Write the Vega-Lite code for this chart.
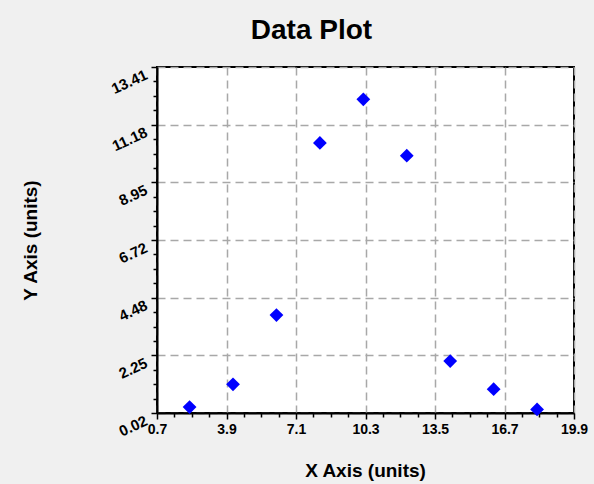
{
  "$schema": "https://vega.github.io/schema/vega-lite/v6.json",
  "width": 417,
  "height": 346,
  "autosize": {"type": "none"},
  "padding": {"left": 157, "top": 67, "right": 20, "bottom": 71},
  "background": "#f0f0f0",
  "title": {
    "text": "Data Plot",
    "font": "Liberation Sans",
    "fontSize": 28,
    "fontWeight": "bold",
    "color": "#000000",
    "anchor": "middle",
    "frame": "group",
    "dx": -54,
    "dy": 31,
    "baseline": "alphabetic",
    "offset": 30
  },
  "config": {
    "view": {"stroke": "#000000", "strokeWidth": 2, "fill": "#ffffff"},
    "axis": {
      "domainColor": "#000000",
      "domainWidth": 2,
      "tickColor": "#000000",
      "tickWidth": 1.5,
      "labelColor": "#000000",
      "labelFont": "Liberation Sans",
      "labelFontSize": 14,
      "labelFontWeight": "bold",
      "titleFont": "Liberation Sans",
      "titleFontSize": 19,
      "titleFontWeight": "bold",
      "titleColor": "#000000",
      "gridColor": "#a8a8a8",
      "gridDash": [8, 5],
      "gridWidth": 1.5
    }
  },
  "data": {
    "values": [
      {"x": 2.2, "y": 0.25},
      {"x": 4.2, "y": 1.13},
      {"x": 6.2, "y": 3.81},
      {"x": 8.2, "y": 10.47},
      {"x": 10.2, "y": 12.16},
      {"x": 12.2, "y": 9.98},
      {"x": 14.2, "y": 2.03},
      {"x": 16.2, "y": 0.94},
      {"x": 18.2, "y": 0.16}
    ]
  },
  "mark": {"type": "point", "shape": "diamond", "filled": true, "color": "#0000ff", "size": 190, "opacity": 1},
  "encoding": {
    "x": {
      "field": "x",
      "type": "quantitative",
      "scale": {"domain": [0.7, 19.9], "nice": false, "zero": false},
      "axis": {
        "title": "X Axis (units)",
        "values": [0.7, 1.5, 2.3, 3.1, 3.9, 4.7, 5.5, 6.3, 7.1, 7.9, 8.7, 9.5, 10.3, 11.1, 11.9, 12.7, 13.5, 14.3, 15.1, 15.9, 16.7, 17.5, 18.3, 19.1, 19.9],
        "format": ".1f",
        "labelExpr": "abs((datum.value-0.7)/3.2 - round((datum.value-0.7)/3.2)) < 0.01 ? datum.label : ''",
        "tickSize": {"condition": {"test": "abs((datum.value-0.7)/3.2 - round((datum.value-0.7)/3.2)) < 0.01", "value": 6}, "value": 4},
        "gridOpacity": {"condition": {"test": "abs((datum.value-0.7)/3.2 - round((datum.value-0.7)/3.2)) < 0.01", "value": 1}, "value": 0},
        "labelPadding": 3,
        "labelFlush": false,
        "labelOverlap": false,
        "titleX": 208,
        "titleY": 57,
        "titleBaseline": "middle",
        "titleAlign": "center"
      }
    },
    "y": {
      "field": "y",
      "type": "quantitative",
      "scale": {"domain": [0.02, 13.41], "nice": false, "zero": false},
      "axis": {
        "title": "Y Axis (units)",
        "values": [0.02, 0.577917, 1.135833, 1.69375, 2.251667, 2.809583, 3.3675, 3.925417, 4.483333, 5.04125, 5.599167, 6.157083, 6.7151, 7.272917, 7.830833, 8.38875, 8.946667, 9.504583, 10.0625, 10.620417, 11.178333, 11.73625, 12.294167, 12.852083, 13.41],
        "format": ".2f",
        "labelExpr": "abs((datum.value-0.02)/2.231667 - round((datum.value-0.02)/2.231667)) < 0.01 ? datum.label : ''",
        "tickSize": {"condition": {"test": "abs((datum.value-0.02)/2.231667 - round((datum.value-0.02)/2.231667)) < 0.01", "value": 6}, "value": 4},
        "gridOpacity": {"condition": {"test": "abs((datum.value-0.02)/2.231667 - round((datum.value-0.02)/2.231667)) < 0.01", "value": 1}, "value": 0},
        "labelAngle": -25,
        "labelAlign": "right",
        "labelBaseline": "top",
        "labelFontSize": 15,
        "labelPadding": 8,
        "labelFlush": false,
        "labelOverlap": false,
        "titleX": -127,
        "titleY": 173,
        "titleAngle": -90,
        "titleAlign": "center",
        "titleBaseline": "middle"
      }
    }
  }
}
